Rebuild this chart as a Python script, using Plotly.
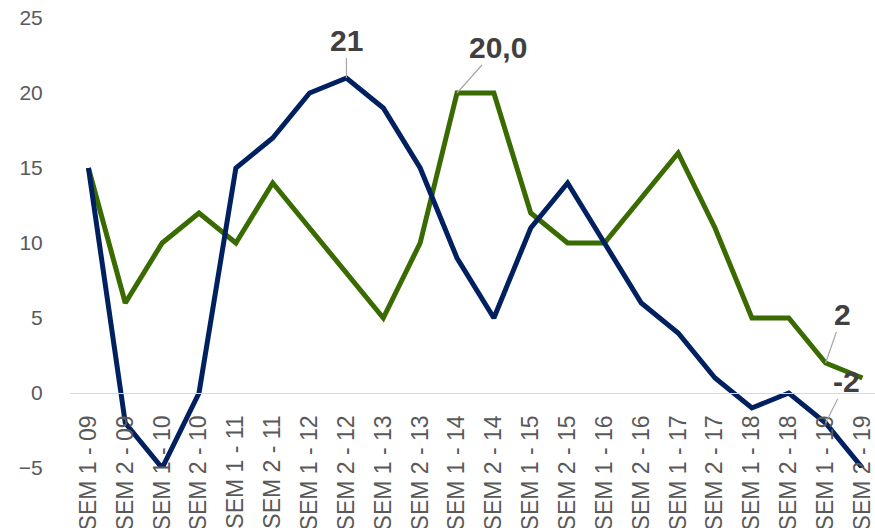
import plotly.graph_objects as go

categories = [
    "SEM 1 - 09", "SEM 2 - 09", "SEM 1 - 10", "SEM 2 - 10", "SEM 1 - 11", "SEM 2 - 11",
    "SEM 1 - 12", "SEM 2 - 12", "SEM 1 - 13", "SEM 2 - 13", "SEM 1 - 14", "SEM 2 - 14",
    "SEM 1 - 15", "SEM 2 - 15", "SEM 1 - 16", "SEM 2 - 16", "SEM 1 - 17", "SEM 2 - 17",
    "SEM 1 - 18", "SEM 2 - 18", "SEM 1 - 19", "SEM 2 - 19",
]
navy_values = [15, -2, -5, 0, 15, 17, 20, 21, 19, 15, 9, 5, 11, 14, 10, 6, 4, 1, -1, 0, -2, -5]
green_values = [15, 6, 10, 12, 10, 14, 11, 8, 5, 10, 20, 20, 12, 10, 10, 13, 16, 11, 5, 5, 2, 1]

y_ticks = [-5, 0, 5, 10, 15, 20, 25]

# (series, category index, label text, x offset px, y offset px)
point_labels = [
    ("navy", 7, "21", 0, -38),
    ("green", 10, "20,0", 41, -46),
    ("green", 20, "2", 17, -49),
    ("navy", 20, "-2", 21, -42),
]

NAVY = "#002060"
GREEN = "#3A6B00"
FONT = "Liberation Sans, Arial, sans-serif"

x_idx = list(range(len(categories)))

fig = go.Figure()
fig.add_trace(go.Scatter(x=x_idx, y=green_values, mode="lines",
                         line=dict(color=GREEN, width=5), hoverinfo="skip"))
fig.add_trace(go.Scatter(x=x_idx, y=navy_values, mode="lines",
                         line=dict(color=NAVY, width=5), hoverinfo="skip"))

series = {"navy": navy_values, "green": green_values}
for name, i, text, ax, ay in point_labels:
    fig.add_annotation(
        x=i, y=series[name][i], text=f"<b>{text}</b>",
        showarrow=True, arrowhead=0, arrowwidth=1.2, arrowcolor="#A6A6A6",
        ax=ax, ay=ay, standoff=0,
        font=dict(family=FONT, size=30, color="#404040"),
    )

fig.update_layout(
    width=875, height=528,
    margin=dict(l=70, r=0, t=18, b=60, autoexpand=False),
    paper_bgcolor="white", plot_bgcolor="white",
    showlegend=False,
    font=dict(family=FONT, color="#595959", size=21),
    xaxis=dict(
        range=[-0.5, 21.34],
        tickmode="array", tickvals=x_idx, ticktext=categories,
        tickangle=-90, tickfont=dict(size=23, color="#595959"),
        ticks="outside", ticklen=12, tickcolor="rgba(0,0,0,0)",
        ticklabeloverflow="allow",
        showgrid=False, zeroline=False, showline=True,
        linecolor="#D9D9D9", linewidth=1.3,
        anchor="free", position=75 / 450, automargin=False,
    ),
    yaxis=dict(
        range=[-5, 25],
        tickmode="array", tickvals=y_ticks,
        tickfont=dict(size=21, color="#595959"),
        ticks="outside", ticklen=22, tickcolor="rgba(0,0,0,0)",
        showgrid=False, zeroline=False, showline=False, automargin=False,
    ),
)

fig.write_html("out.html")
